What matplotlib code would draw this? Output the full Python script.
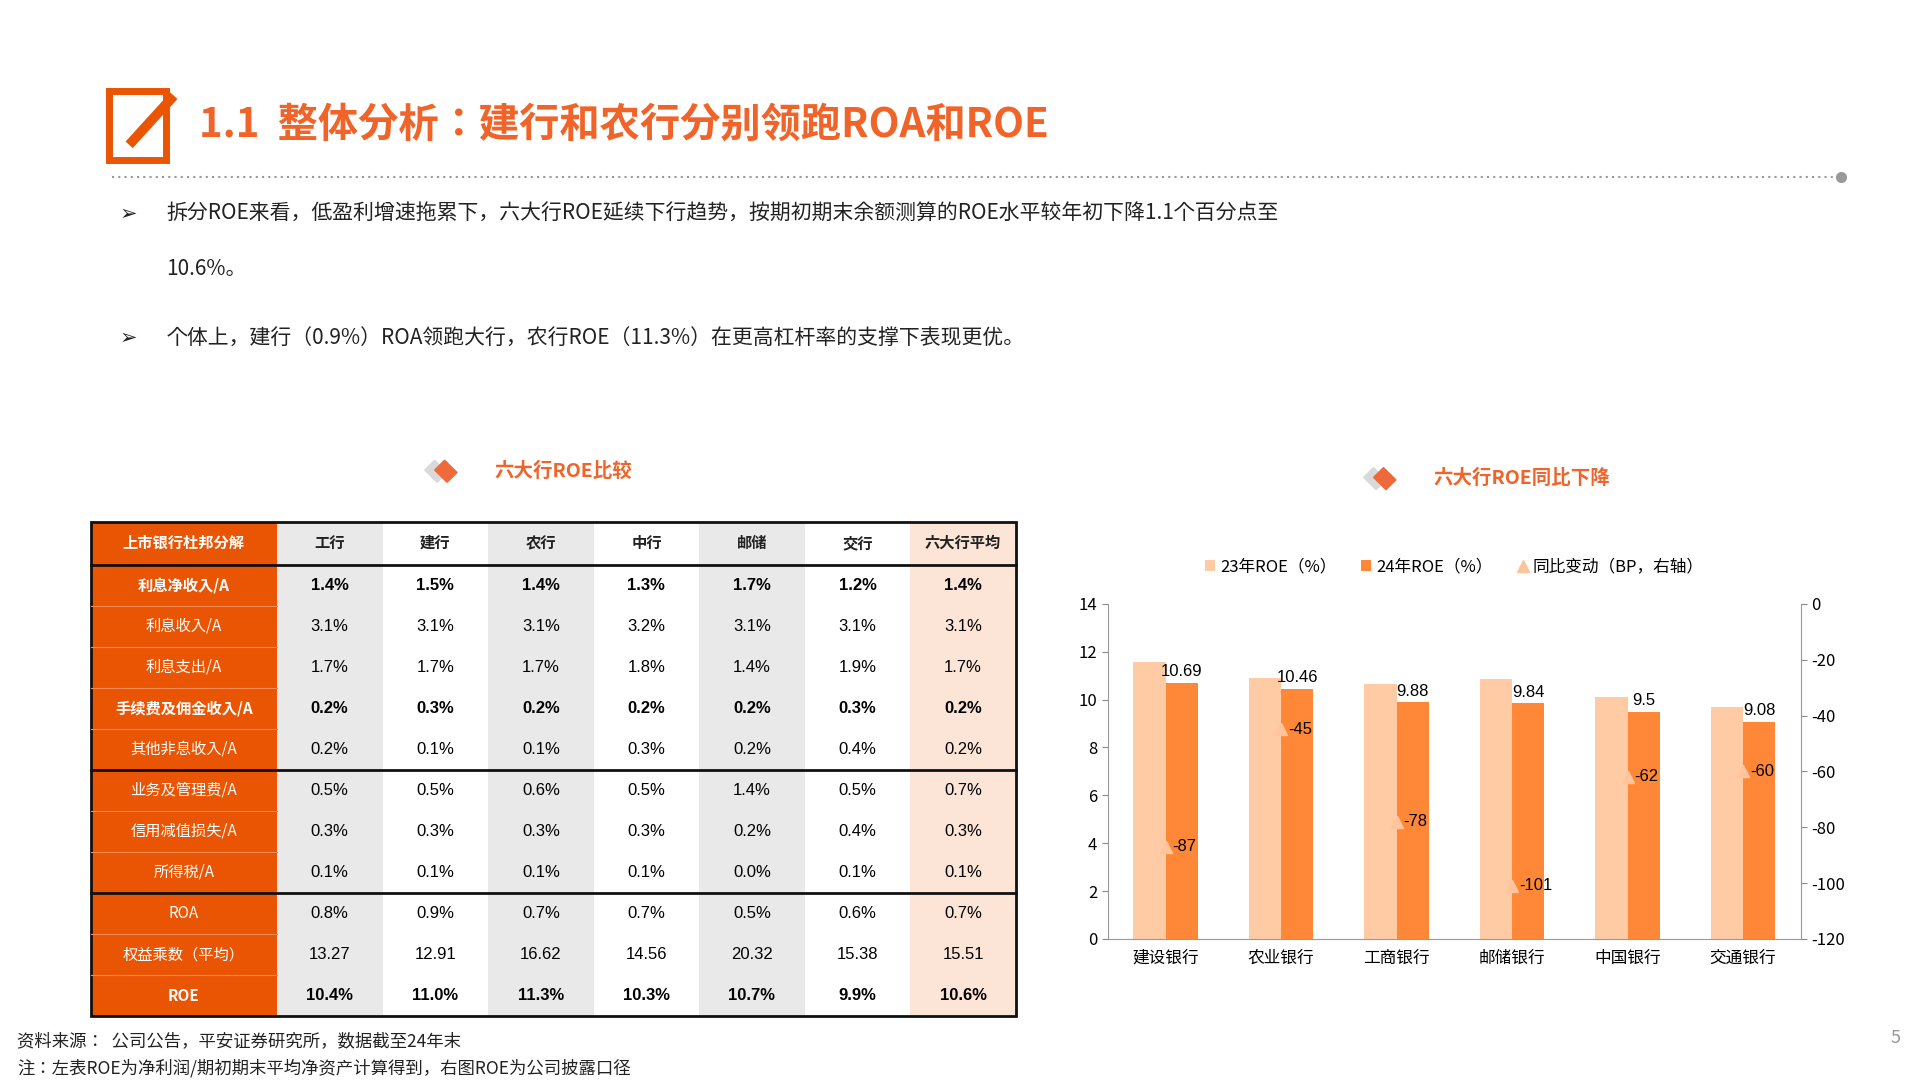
import matplotlib
matplotlib.use("Agg")
import matplotlib.pyplot as plt
from matplotlib import font_manager
from matplotlib.patches import Rectangle, Polygon
import numpy as np

# pick whatever name the CJK font is registered under
cjk = [f.name for f in font_manager.fontManager.ttflist if "CJK" in f.name]
cjk_pref = [n for n in cjk if "SC" in n] or cjk
plt.rcParams["font.family"] = (cjk_pref[:1] if cjk_pref else []) + ["DejaVu Sans"]
plt.rcParams["axes.unicode_minus"] = False

# ---- data ----
col_names = ["工行", "建行", "农行", "中行", "邮储", "交行", "六大行平均"]
row_names = ["利息净收入/A", "利息收入/A", "利息支出/A", "手续费及佣金收入/A", "其他非息收入/A",
             "业务及管理费/A", "信用减值损失/A", "所得税/A", "ROA", "权益乘数（平均）", "ROE"]
table_vals = [
    ["1.4%", "1.5%", "1.4%", "1.3%", "1.7%", "1.2%", "1.4%"],
    ["3.1%", "3.1%", "3.1%", "3.2%", "3.1%", "3.1%", "3.1%"],
    ["1.7%", "1.7%", "1.7%", "1.8%", "1.4%", "1.9%", "1.7%"],
    ["0.2%", "0.3%", "0.2%", "0.2%", "0.2%", "0.3%", "0.2%"],
    ["0.2%", "0.1%", "0.1%", "0.3%", "0.2%", "0.4%", "0.2%"],
    ["0.5%", "0.5%", "0.6%", "0.5%", "1.4%", "0.5%", "0.7%"],
    ["0.3%", "0.3%", "0.3%", "0.3%", "0.2%", "0.4%", "0.3%"],
    ["0.1%", "0.1%", "0.1%", "0.1%", "0.0%", "0.1%", "0.1%"],
    ["0.8%", "0.9%", "0.7%", "0.7%", "0.5%", "0.6%", "0.7%"],
    ["13.27", "12.91", "16.62", "14.56", "20.32", "15.38", "15.51"],
    ["10.4%", "11.0%", "11.3%", "10.3%", "10.7%", "9.9%", "10.6%"],
]
bold_rows = [0, 3, 10]

banks = ["建设银行", "农业银行", "工商银行", "邮储银行", "中国银行", "交通银行"]
roe23 = [11.56, 10.91, 10.66, 10.85, 10.12, 9.68]
roe24 = [10.69, 10.46, 9.88, 9.84, 9.50, 9.08]
chg_bp = [-87, -45, -78, -101, -62, -60]

ORANGE = "#EA5504"
TITLE_OR = "#F0642A"
W, H = 1546, 880

fig = plt.figure(figsize=(19.2, 10.8), dpi=100)
bg = fig.add_axes([0, 0, 1, 1])
bg.set_xlim(0, W)
bg.set_ylim(H, 0)
bg.axis("off")

# ---- title ----
bg.add_patch(Rectangle((88, 74), 46, 56, fill=False, lw=5, ec=ORANGE))
bg.plot([104, 140], [118, 78], color=ORANGE, lw=7, solid_capstyle="butt")
bg.text(160, 102, "1.1  整体分析：建行和农行分别领跑ROA和ROE", fontsize=29, color=TITLE_OR,
        fontweight="bold", va="center")
bg.plot([90, 1480], [144, 144], color="#999999", lw=1.5, ls=(0, (1, 2)))
bg.plot([1482], [144], "o", color="#999999", ms=7)

bullets = [(174, "拆分ROE来看，低盈利增速拖累下，六大行ROE延续下行趋势，按期初期末余额测算的ROE水平较年初下降1.1个百分点至"),
           (219, "10.6%。"),
           (275, "个体上，建行（0.9%）ROA领跑大行，农行ROE（11.3%）在更高杠杆率的支撑下表现更优。")]
for y, t in bullets:
    bg.text(134, y, t, fontsize=15, va="center", color="#222222")
for y in (174, 275):
    bg.text(96, y, "➢", fontsize=15, va="center", color="#222222", family="DejaVu Sans")

# ---- section headers ----
def header(x, y, text):
    bg.add_patch(Polygon([[x - 6, y], [x + 2, y - 8], [x + 12, y + 2], [x + 4, y + 10]], color="#D9D9D9"))
    bg.add_patch(Polygon([[x + 2, y], [x + 10, y - 8], [x + 20, y + 2], [x + 12, y + 10]], color="#EE6A3A"))
    bg.text(x + 50, y + 1, text, fontsize=14, color=TITLE_OR, va="center", fontweight="bold")

header(348, 383, "六大行ROE比较")
header(1104, 389, "六大行ROE同比下降")

# ---- table ----
xs = [73, 223, 308, 393, 478, 563, 648, 733, 818]
top, hdr_bot, bot = 425, 460, 828
rh = (bot - hdr_bot) / len(row_names)
col_bg = ["#E9E9E9", "white", "#E9E9E9", "white", "#E9E9E9", "white", "#FCE4D6"]
bg.add_patch(Rectangle((xs[0], top), xs[1] - xs[0], bot - top, color=ORANGE, lw=0))
for j in range(7):
    bg.add_patch(Rectangle((xs[j + 1], top), xs[j + 2] - xs[j + 1], bot - top, color=col_bg[j], lw=0))
bg.text((xs[0] + xs[1]) / 2, (top + hdr_bot) / 2, "上市银行杜邦分解", color="white", fontsize=11,
        fontweight="bold", ha="center", va="center")
for j, c in enumerate(col_names):
    bg.text((xs[j + 1] + xs[j + 2]) / 2, (top + hdr_bot) / 2, c, fontsize=11, fontweight="bold",
            ha="center", va="center", color="#222222")
for i, rn in enumerate(row_names):
    yc = hdr_bot + rh * (i + 0.5)
    b = "bold" if i in bold_rows else "normal"
    bg.text((xs[0] + xs[1]) / 2, yc, rn, color="white", fontsize=11, fontweight=b, ha="center", va="center")
    if i > 0:
        bg.plot([xs[0], xs[1]], [hdr_bot + rh * i] * 2, color="#F58A55", lw=0.8)
    for j, v in enumerate(table_vals[i]):
        bg.text((xs[j + 1] + xs[j + 2]) / 2, yc, v, fontsize=12, fontweight=b, ha="center", va="center",
                color="black", family="Liberation Sans")
bg.add_patch(Rectangle((xs[0], top), xs[-1] - xs[0], bot - top, fill=False, ec="#111111", lw=2))
for yl in (hdr_bot, hdr_bot + rh * 5, hdr_bot + rh * 8):
    bg.plot([xs[0], xs[-1]], [yl, yl], color="#111111", lw=2)

# ---- bar chart ----
ax = fig.add_axes([892 / W, 1 - 765 / H, (1450 - 892) / W, (765 - 492) / H])
x = np.arange(len(banks))
w = 0.28
ax.bar(x - w / 2, roe23, w, color="#FFCBA4", label="23年ROE（%）")
ax.bar(x + w / 2, roe24, w, color="#FF8838", label="24年ROE（%）")
for xi, v in zip(x, roe24):
    ax.text(xi + w / 2, v + 0.15, f"{v:g}", ha="center", va="bottom", fontsize=12, family="Liberation Sans")
ax.set_ylim(0, 14)
ax.set_yticks(range(0, 15, 2))
ax.set_xlim(-0.5, len(banks) - 0.5)
ax.set_xticks(x)
ax.set_xticklabels(banks, fontsize=12)
ax.tick_params(axis="y", labelsize=12, length=4, color="#888888")
ax.tick_params(axis="x", length=0, pad=8)
for s in ("top", "right"):
    ax.spines[s].set_visible(False)
for s in ("left", "bottom"):
    ax.spines[s].set_color("#999999")

ax2 = ax.twinx()
ax2.plot(x, chg_bp, "^", color="#FFC49B", ms=8, label="同比变动（BP，右轴）")
for xi, v in zip(x, chg_bp):
    ax2.text(xi + 0.06, v, f"{v}", va="center", fontsize=12, family="Liberation Sans")
ax2.set_ylim(-120, 0)
ax2.set_yticks(range(-120, 1, 20))
ax2.tick_params(axis="y", labelsize=12, length=4, color="#888888")
for s in ("top", "left", "bottom"):
    ax2.spines[s].set_visible(False)
ax2.spines["right"].set_color("#999999")

h1, l1 = ax.get_legend_handles_labels()
h2, l2 = ax2.get_legend_handles_labels()
ax.legend(h1 + h2, l1 + l2, loc="lower center", bbox_to_anchor=(0.5, 1.04), ncol=3, frameon=False,
          fontsize=12, handlelength=0.6, handletextpad=0.3, columnspacing=1.5)

# ---- footer ----
bg.text(14, 848, "资料来源：  公司公告，平安证券研究所，数据截至24年末", fontsize=12.5, va="center", color="#222222")
bg.text(14, 870, "注：左表ROE为净利润/期初期末平均净资产计算得到，右图ROE为公司披露口径", fontsize=12.5,
        va="center", color="#222222")
bg.text(1530, 846, "5", fontsize=13, color="#999999", ha="right", va="center")

fig.savefig("out.png", dpi=100)
